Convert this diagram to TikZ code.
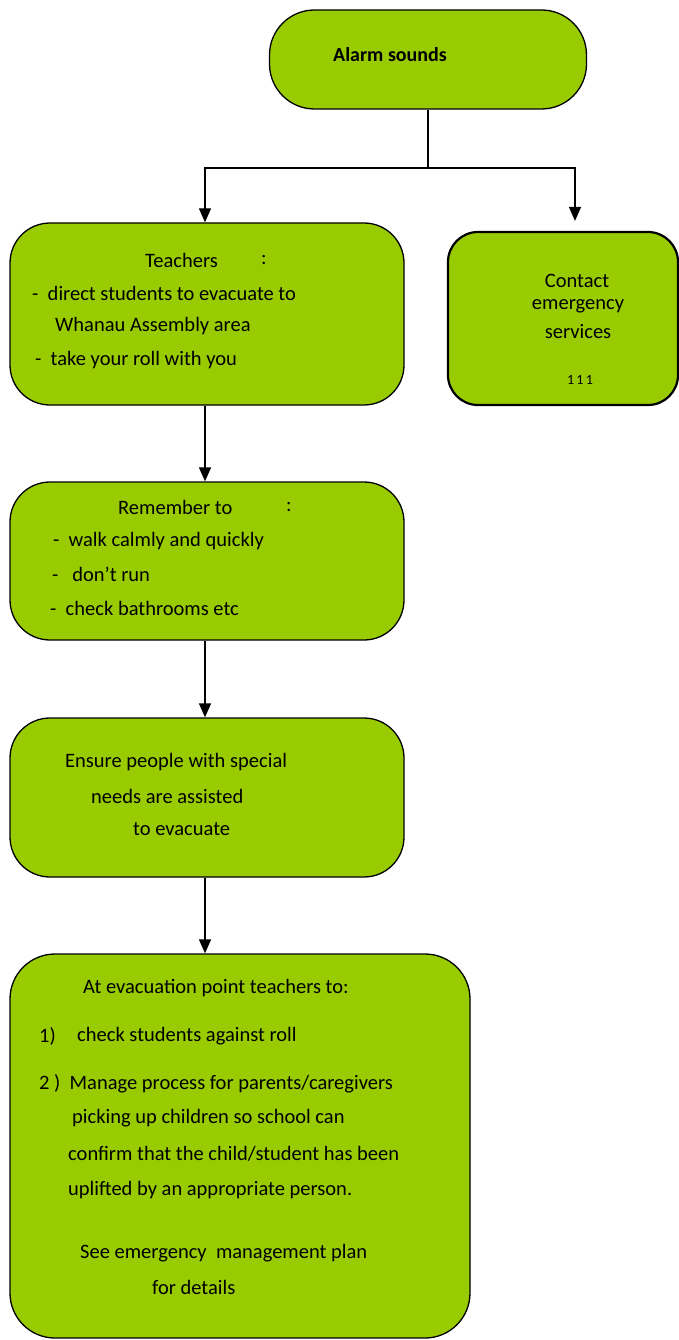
\documentclass[tikz,border=0pt]{standalone}
\usepackage{fontspec}
\setmainfont{Carlito}
\usetikzlibrary{arrows.meta}

\definecolor{boxgreen}{HTML}{99CC00}
\tikzset{
  box/.style={draw, fill=boxgreen, line width=1.3pt, rounded corners=40pt, inner sep=0pt},
  txt/.style={anchor=west, inner sep=0pt, font=\fontsize{20.5}{24}\selectfont},
  ctxt/.style={inner sep=0pt, font=\fontsize{20.5}{24}\selectfont},
  arr/.style={-{Triangle[length=14pt,width=12pt]}, line width=1.3pt}
}

\begin{document}
\begin{tikzpicture}[x=1pt,y=-1pt]
\useasboundingbox (0,0) rectangle (679,1340);

% boxes
\node[box, rounded corners=45pt, minimum width=317pt, minimum height=99pt] (alarm) at (428,59.5) {};
\node[box, minimum width=394pt, minimum height=182pt] (teach) at (207,314) {};
\node[box, line width=2.2pt, rounded corners=30pt, minimum width=230pt, minimum height=173pt] (contact) at (563,318.5) {};
\node[box, minimum width=394pt, minimum height=158pt] (remember) at (207,561) {};
\node[box, minimum width=394pt, minimum height=159pt] (ensure) at (207,797.5) {};
\node[box, rounded corners=45pt, minimum width=460pt, minimum height=384pt] (gather) at (240,1146) {};

% texts
\node[txt, font=\fontsize{20}{24}\selectfont\bfseries] (t0) at (333,55) {Alarm sounds};

\node[txt] (t1) at (145,260) {Teachers};
\node[txt] (t1c) at (261,260) {:};
\node[txt] (t2) at (32,293) {-\ \ direct students to evacuate to};
\node[txt] (t3) at (55,326) {Whanau Assembly area};
\node[txt] (t4) at (35,360) {-\ \ take your roll with you};

\node[ctxt] (c1) at (577,281) {Contact};
\node[ctxt] (c2) at (578,306) {emergency};
\node[ctxt] (c3) at (578,332) {services};
\node[ctxt, font=\fontsize{14}{16}\selectfont] (c4) at (580,380) {1\,1\,1};

\node[txt] (r1) at (118,507) {Remember to};
\node[txt] (r1c) at (286,507) {:};
\node[txt] (r2) at (53,541) {-\ \ walk calmly and quickly};
\node[txt] (r3) at (52,574) {-\ \ \ don’t run};
\node[txt] (r4) at (50,608) {-\ \ check bathrooms etc};

\node[txt] (e1) at (65,762) {Ensure people with special};
\node[txt] (e2) at (91,796) {needs are assisted};
\node[txt] (e3) at (133,829) {to evacuate};

\node[txt] (g1) at (83,988) {At evacuation point teachers to:};
\node[txt] (g2) at (39,1036) {1)};
\node[txt] (g2b) at (77,1036) {check students against roll};
\node[txt] (g3) at (39,1084) {2 )\ \ Manage process for parents/caregivers};
\node[txt] (g4) at (72,1118) {picking up children so school can};
\node[txt] (g5) at (68,1154) {confirm that the child/student has been};
\node[txt] (g6) at (68,1190) {uplifted by an appropriate person.};
\node[txt] (g7) at (80,1253) {See emergency\ \ management plan};
\node[txt] (g8) at (152,1287) {for details};

% connectors
\coordinate (split) at (428,168);
\draw[line width=1.3pt] (alarm.south) -- (split);
\draw[arr] (split) -| ([xshift=-2pt]teach.north);
\draw[arr] (split) -| ([xshift=12pt,yshift=10pt]contact.north);
\draw[arr] ([xshift=-2pt]teach.south) -- ([xshift=-2pt]remember.north);
\draw[arr] ([xshift=-2pt]remember.south) -- ([xshift=-2pt]ensure.north);
\draw[arr] ([xshift=-2pt]ensure.south) -- ([xshift=-35pt]gather.north);

\end{tikzpicture}
\end{document}
